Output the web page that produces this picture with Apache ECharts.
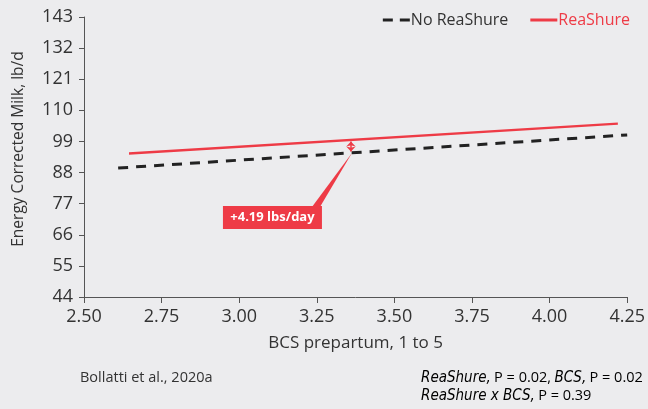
<!DOCTYPE html>
<html>
<head>
<meta charset="utf-8">
<script src="https://cdn.jsdelivr.net/npm/echarts@6/dist/echarts.min.js"></script>
<style>
html,body{margin:0;padding:0;background:#ECECEE;}
#c{width:648px;height:409px;}
</style>
</head>
<body>
<div id="c"></div>
<script>
// Data
const xTicks = [2.50, 2.75, 3.00, 3.25, 3.50, 3.75, 4.00, 4.25];
const yTicks = [44, 55, 66, 77, 88, 99, 110, 121, 132, 143];
const bcsNoReaShure = [2.61, 4.25];
const ecmNoReaShure = [89.6, 101.3];
const bcsReaShure = [2.645, 4.22];
const ecmReaShure = [94.7, 105.3];
const diffX = 3.36;
const diffLow = 94.95;
const diffHigh = 99.45;
const diffLabel = '+4.19 lbs/day';
const seriesNames = ['No ReaShure', 'ReaShure'];

const RED = '#EE3B46';
const DARK = '#222222';
const FONT = 'Open Sans';

const chart = echarts.init(document.getElementById('c'), null, {renderer: 'canvas'});

const option = {
  backgroundColor: '#ECECEE',
  animation: false,
  grid: {left: 84, right: 19, top: 17, bottom: 112, containLabel: false},
  legend: {
    top: 7, right: 13,
    itemWidth: 27, itemHeight: 4, itemGap: 22,
    textStyle: {fontFamily: FONT, fontSize: 16, color: '#333', padding: [0,0,0,-4]},
    data: [
      {name: seriesNames[0], icon: 'path://M0,0H10V3H0Z M17,0H27V3H17Z', textStyle: {color: '#333'}},
      {name: seriesNames[1], icon: 'path://M0,0H27V3H0Z', textStyle: {color: RED}}
    ]
  },
  xAxis: {
    type: 'value', min: xTicks[0], max: xTicks[xTicks.length-1], interval: 0.25,
    name: 'BCS prepartum, 1 to 5', nameLocation: 'middle', nameGap: 38,
    nameTextStyle: {fontFamily: FONT, fontSize: 17, color: '#333'},
    axisLine: {lineStyle: {color: '#555', width: 1}},
    axisTick: {show: true, length: 6, lineStyle: {color: '#555'}},
    axisLabel: {fontFamily: FONT, fontSize: 18, color: '#333', margin: 11,
      formatter: v => v.toFixed(2)},
    splitLine: {show: false}
  },
  yAxis: {
    type: 'value', min: yTicks[0], max: yTicks[yTicks.length-1], interval: 11,
    name: 'Energy Corrected Milk, lb/d', nameLocation: 'middle', nameGap: 57,
    nameTextStyle: {fontFamily: FONT, fontSize: 15.5, color: '#333', padding: [0,0,0,16]},
    axisLine: {show: true, lineStyle: {color: '#555', width: 1}},
    axisTick: {show: true, length: 5, lineStyle: {color: '#555'}},
    axisLabel: {fontFamily: FONT, fontSize: 18, color: '#333', margin: 11},
    splitLine: {show: false}
  },
  series: [
    {
      name: seriesNames[0], type: 'line', symbol: 'none',
      data: bcsNoReaShure.map((x,i)=>[x, ecmNoReaShure[i]]),
      lineStyle: {color: DARK, width: 3, type: [10, 8]},
      itemStyle: {color: DARK}
    },
    {
      name: seriesNames[1], type: 'line', symbol: 'none',
      data: bcsReaShure.map((x,i)=>[x, ecmReaShure[i]]),
      lineStyle: {color: RED, width: 2.5},
      itemStyle: {color: RED},
      markLine: {
        silent: true, symbol: ['arrow','arrow'], symbolSize: [7, 5],
        label: {show: false},
        lineStyle: {color: RED, width: 1.5, type: 'solid'},
        data: [[{coord: [diffX, diffLow + 0.5]}, {coord: [diffX, diffHigh - 0.5]}]]
      }
    }
  ]
};
chart.setOption(option);

// Annotation callout anchored via the chart's own scales
const p = chart.convertToPixel({gridIndex: 0}, [diffX, diffLow]);
const boxW = 99, boxH = 23;
const boxX = p[0] - 128, boxY = p[1] + 53;
const italicFont = '"Liberation Sans Narrow", "DejaVu Sans Condensed", sans-serif';
chart.setOption({
  graphic: [
    {type: 'polygon', shape: {points: [[boxX+boxW-10, boxY+1],[boxX+boxW-2, boxY+1],[p[0]+1, p[1]]]},
      style: {fill: RED}, silent: true},
    {type: 'rect', shape: {x: boxX, y: boxY, width: boxW, height: boxH},
      style: {fill: RED}, silent: true},
    {type: 'text', x: boxX + boxW/2, y: boxY + boxH/2,
      style: {text: diffLabel, fill: '#fff', font: 'bold 13px "Open Sans"', align: 'center', verticalAlign: 'middle'}},
    {type: 'text', x: 80, y: 378,
      style: {text: 'Bollatti et al., 2020a', fill: '#333', font: '14.5px "Open Sans"', verticalAlign: 'middle'}},
    {type: 'text', x: 421, y: 378,
      style: {
        text: '{i|ReaShure,} {n|P = 0.02,} {i|BCS,} {n|P = 0.02}',
        verticalAlign: 'middle',
        rich: {
          i: {fontFamily: italicFont, fontStyle: 'italic', fontSize: 15, color: '#333'},
          n: {fontFamily: FONT, fontSize: 14.5, color: '#333'}
        }
      }},
    {type: 'text', x: 421, y: 396,
      style: {
        text: '{i|ReaShure x BCS,} {n|P = 0.39}',
        verticalAlign: 'middle',
        rich: {
          i: {fontFamily: italicFont, fontStyle: 'italic', fontSize: 15, color: '#333'},
          n: {fontFamily: FONT, fontSize: 14.5, color: '#333'}
        }
      }}
  ]
});
</script>
</body>
</html>
